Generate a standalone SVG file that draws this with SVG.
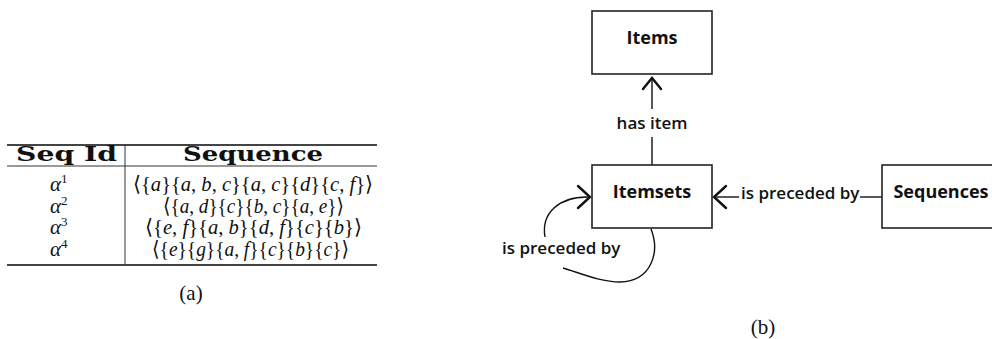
<svg xmlns="http://www.w3.org/2000/svg" width="992" height="339" viewBox="0 0 992 339">
<defs>
<style>
.rule{stroke:#444;stroke-width:1.8;fill:none}
.vr{stroke:#333;stroke-width:1;fill:none}
.tex{font-family:"Liberation Serif","DejaVu Serif",serif;font-size:21px;fill:#111}
.texb{font-family:"DejaVu Serif","Liberation Serif",serif;font-size:21px;font-weight:bold;fill:#111}
.m{font-style:italic}
.box{fill:#fff;stroke:#222;stroke-width:1.6}
.nl{font-family:"Open Sans","Noto Sans",sans-serif;font-size:18px;font-weight:bold;fill:#111}
.el{font-family:"Open Sans","Noto Sans",sans-serif;font-size:17px;font-weight:600;fill:#111}
.edge{stroke:#111;stroke-width:1.4;fill:none}
.head{stroke:#111;stroke-width:2.4;fill:none;stroke-linecap:round;stroke-linejoin:miter}
</style>
</defs>
<g id="table">
<line class="rule" x1="7" y1="145" x2="377" y2="145"/>
<line class="vr" x1="7" y1="166" x2="377" y2="166"/>
<line class="rule" x1="7" y1="265" x2="377" y2="265"/>
<line class="vr" x1="125" y1="145" x2="125" y2="265"/>
<text class="texb" x="16" y="161" textLength="101" lengthAdjust="spacingAndGlyphs">Seq Id</text>
<text class="texb" x="183" y="161" textLength="140" lengthAdjust="spacingAndGlyphs">Sequence</text>
<text class="tex" x="50" y="191"><tspan class="m">α</tspan><tspan font-size="13" dy="-8">1</tspan></text>
<text class="tex" x="50" y="213"><tspan class="m">α</tspan><tspan font-size="13" dy="-8">2</tspan></text>
<text class="tex" x="50" y="234"><tspan class="m">α</tspan><tspan font-size="13" dy="-8">3</tspan></text>
<text class="tex" x="50" y="256"><tspan class="m">α</tspan><tspan font-size="13" dy="-8">4</tspan></text>
<text class="tex" x="133" y="191" textLength="240" lengthAdjust="spacingAndGlyphs">⟨{<tspan class="m">a</tspan>}{<tspan class="m">a</tspan>, <tspan class="m">b</tspan>, <tspan class="m">c</tspan>}{<tspan class="m">a</tspan>, <tspan class="m">c</tspan>}{<tspan class="m">d</tspan>}{<tspan class="m">c</tspan>, <tspan class="m">f</tspan>}⟩</text>
<text class="tex" x="163" y="213" textLength="181" lengthAdjust="spacingAndGlyphs">⟨{<tspan class="m">a</tspan>, <tspan class="m">d</tspan>}{<tspan class="m">c</tspan>}{<tspan class="m">b</tspan>, <tspan class="m">c</tspan>}{<tspan class="m">a</tspan>, <tspan class="m">e</tspan>}⟩</text>
<text class="tex" x="145" y="234" textLength="217" lengthAdjust="spacingAndGlyphs">⟨{<tspan class="m">e</tspan>, <tspan class="m">f</tspan>}{<tspan class="m">a</tspan>, <tspan class="m">b</tspan>}{<tspan class="m">d</tspan>, <tspan class="m">f</tspan>}{<tspan class="m">c</tspan>}{<tspan class="m">b</tspan>}⟩</text>
<text class="tex" x="152" y="256" textLength="197" lengthAdjust="spacingAndGlyphs">⟨{<tspan class="m">e</tspan>}{<tspan class="m">g</tspan>}{<tspan class="m">a</tspan>, <tspan class="m">f</tspan>}{<tspan class="m">c</tspan>}{<tspan class="m">b</tspan>}{<tspan class="m">c</tspan>}⟩</text>
<text class="tex" x="191" y="300" text-anchor="middle" font-size="22">(a)</text>
</g>
<g id="connectors">
<line class="edge" x1="652" y1="165" x2="652" y2="137"/>
<line class="edge" x1="652" y1="109" x2="652" y2="78"/>
<polyline class="head" points="643,89 652,78 661,89"/>
<text class="el" x="652" y="129" text-anchor="middle">has item</text>
<line class="edge" x1="882" y1="197" x2="860" y2="197"/>
<line class="edge" x1="739" y1="197" x2="714" y2="197"/>
<polyline class="head" points="726,186 714,197 726,208"/>
<text class="el" x="741" y="199">is preceded by</text>
<path class="edge" d="M651 229 C660 252 652 281 620 282 C600 282 580 273 563 268"/>
<path class="edge" d="M545 237 C541 214 558 196 590 197"/>
<polyline class="head" points="578,186 590,197 578,208"/>
<text class="el" x="502" y="254">is preceded by</text>
</g>
<g id="node-items">
<rect class="box" x="592" y="11" width="120" height="63"/>
<text class="nl" x="652" y="44" text-anchor="middle">Items</text>
</g>
<g id="node-itemsets">
<rect class="box" x="592" y="165" width="120" height="63"/>
<text class="nl" x="652" y="198" text-anchor="middle">Itemsets</text>
</g>
<g id="node-sequences">
<rect class="box" x="882" y="165" width="120" height="63"/>
<text class="nl" x="941" y="198" text-anchor="middle">Sequences</text>
</g>
<text class="tex" x="763" y="334" text-anchor="middle" font-size="22">(b)</text>
</svg>
